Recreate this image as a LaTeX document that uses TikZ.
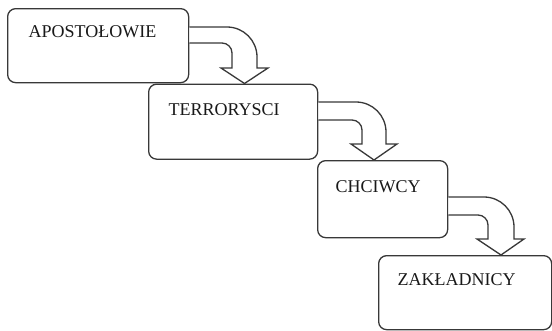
\documentclass[tikz,border=0pt]{standalone}
\usepackage{fontspec}
\setmainfont{Liberation Serif}
\begin{document}
\begin{tikzpicture}[x=1pt,y=-1pt,
  line width=1.3pt,
  boxnode/.style={draw=black!78, line width=1.3pt, fill=white, rounded corners=8pt, anchor=north west, inner sep=0pt},
  lbl/.style={anchor=base west, inner sep=0pt, font=\fontsize{18}{20}\selectfont, text=black!90},
  bent/.style={draw=black!78, fill=white, line width=1.3pt, line join=miter}]
\useasboundingbox (0,0) rectangle (552,330);
\clip (0,0) rectangle (552,330);
\fill[white] (0,0) rectangle (552,330);

% boxes
\node[boxnode, minimum width=181pt, minimum height=74pt] (b1) at (7,8) {};
\node[boxnode, minimum width=169pt, minimum height=75pt] (b2) at (148,83.5) {};
\node[boxnode, minimum width=130pt, minimum height=77pt] (b3) at (317,160) {};
\node[boxnode, minimum width=173pt, minimum height=74pt] (b4) at (378,255) {};

% labels
\node[lbl] (t1) at (28,37) {APOSTOŁOWIE};
\node[lbl] (t2) at (168,115) {TERRORYSCI};
\node[lbl] (t3) at (335,192) {CHCIWCY};
\node[lbl] (t4) at (397,285) {ZAKŁADNICY};

% bent arrows
\path[bent] (b1.east |- 0,27) -- (227,27) arc[start angle=-90, end angle=0, radius=30]
  -- (257,68) -- (268,68) -- (244.5,83.5) -- (221,68) -- (232,68) -- (232,53)
  arc[start angle=0, end angle=-90, radius=10] -- (b1.east |- 0,43);
\path[bent] (b2.east |- 0,102) -- (356,102) arc[start angle=-90, end angle=0, radius=30]
  -- (386,144) -- (397,144) -- (374,160) -- (351,144) -- (362,144) -- (362,130)
  arc[start angle=0, end angle=-90, radius=10] -- (b2.east |- 0,120);
\path[bent] (b3.east |- 0,197) -- (484,197) arc[start angle=-90, end angle=0, radius=30]
  -- (514,239) -- (524,239) -- (501,255) -- (477,239) -- (488,239) -- (488,225)
  arc[start angle=0, end angle=-90, radius=10] -- (b3.east |- 0,215);
\end{tikzpicture}
\end{document}
